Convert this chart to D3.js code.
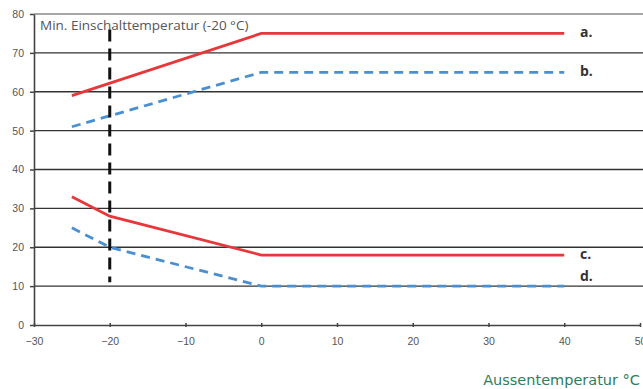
<!DOCTYPE html>
<html lang="de">
<head>
<meta charset="UTF-8">
<title>Einschalttemperatur</title>
<script src="https://d3js.org/d3.v7.min.js"></script>
<style>
    body { margin: 0; background: #fff; }
    svg { display: block; font-family: "Open Sans", "DejaVu Sans", sans-serif; }
    .tick text { fill: #555; font-size: 10.5px; }
    .grid line { stroke-width: 1.4px; }
</style>
</head>
<body>
<svg width="643" height="389"></svg>
<script>
// Aussentemperatur (x) und Werte der vier Kurven
const xA = [-25, 0, 40];
const yA = [59, 75, 75];
const xB = [-25, 0, 40];
const yB = [51, 65, 65];
const xC = [-25, -20, 0, 40];
const yC = [33, 28, 18, 18];
const xD = [-25, -20, 0, 40];
const yD = [25, 20, 10, 10];

const xTicks = [-30, -20, -10, 0, 10, 20, 30, 40, 50];
const yTicks = [0, 10, 20, 30, 40, 50, 60, 70, 80];

const minTemp = -20;           // senkrechte Markierung
const minRange = [11, 76];
const labels = ["a.", "b.", "c.", "d."];
const labelY = [75, 65, 18, 10];

const svg = d3.select("svg");
const x = d3.scaleLinear().domain([-30, 50]).range([34, 640]);
const y = d3.scaleLinear().domain([0, 80]).range([325, 14]);

// Gitterlinien
svg.append("g").attr("class", "grid")
    .selectAll("line")
    .data(yTicks.filter(d => d > 0))
    .join("line")
    .attr("x1", x(-30)).attr("x2", 643)
    .attr("y1", d => y(d)).attr("y2", d => y(d))
    .attr("stroke", d => d === 80 ? "#888" : "#333");

// Achsen
const xAxis = svg.append("g")
    .attr("transform", `translate(0,${y(0)})`)
    .call(d3.axisBottom(x).tickValues(xTicks).tickSize(4).tickSizeOuter(0));
xAxis.select(".domain").attr("stroke", "#444").attr("stroke-width", 1.6);
xAxis.selectAll(".tick line").attr("stroke", "#444").attr("stroke-width", 1.5).attr("transform", "translate(0,-2)");
xAxis.selectAll(".tick text").attr("dy", "1.2em");

const yAxis = svg.append("g")
    .attr("transform", `translate(${x(-30)},0)`)
    .call(d3.axisLeft(y).tickValues(yTicks).tickSize(4).tickSizeOuter(0));
yAxis.select(".domain").attr("stroke", "#444").attr("stroke-width", 1.6);
yAxis.selectAll(".tick line").attr("stroke", "#444").attr("stroke-width", 1.5);
yAxis.selectAll(".tick text").attr("x", -10);

// Kurven
const line = d3.line().x(d => x(d[0])).y(d => y(d[1]));
const series = [
    { xs: xA, ys: yA, color: "#e8373b", dash: null },
    { xs: xB, ys: yB, color: "#4a90d0", dash: "9,6" },
    { xs: xC, ys: yC, color: "#e8373b", dash: null },
    { xs: xD, ys: yD, color: "#4a90d0", dash: "9,6" }
];
series.forEach(s => {
    svg.append("path")
        .datum(d3.zip(s.xs, s.ys))
        .attr("d", line)
        .attr("fill", "none")
        .attr("stroke", s.color)
        .attr("stroke-width", 2.8)
        .attr("stroke-dasharray", s.dash);
});

// senkrechte gestrichelte Linie bei -20 °C
svg.append("line")
    .attr("x1", x(minTemp)).attr("x2", x(minTemp))
    .attr("y1", y(minRange[1])).attr("y2", y(minRange[0]))
    .attr("stroke", "#111")
    .attr("stroke-width", 3)
    .attr("stroke-dasharray", "12,7");

// Beschriftungen
svg.append("text")
    .attr("x", 40).attr("y", 30)
    .attr("font-size", 13.5).attr("fill", "#555")
    .text("Min. Einschalttemperatur (-20 °C)");

svg.selectAll(".lbl")
    .data(labels)
    .join("text")
    .attr("class", "lbl")
    .attr("x", 580)
    .attr("y", (d, i) => y(labelY[i]) + (i === 3 ? -5 : 4))
    .attr("font-size", 14).attr("font-weight", "bold").attr("fill", "#333")
    .text(d => d);

svg.append("text")
    .attr("x", 640).attr("y", 385)
    .attr("text-anchor", "end")
    .attr("font-family", "'DejaVu Sans', sans-serif")
    .attr("font-size", 14.5).attr("fill", "#2e7d5b")
    .text("Aussentemperatur °C");
</script>
</body>
</html>
